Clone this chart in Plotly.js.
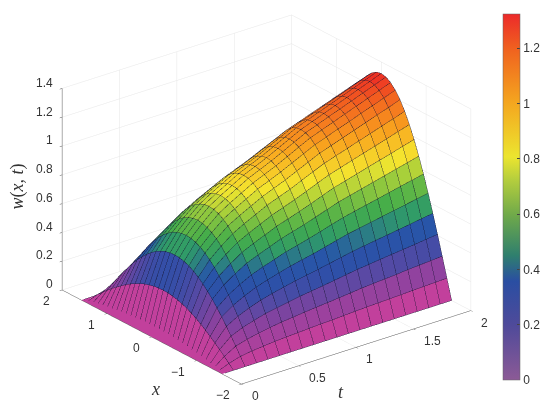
<!DOCTYPE html>
<html>
<head>
<meta charset="utf-8">
<script src="https://cdn.plot.ly/plotly-3.0.1.min.js"></script>
<style>html,body{margin:0;padding:0;background:#fff}#plot{width:550px;height:409px}</style>
</head>
<body>
<div id="plot"></div>
<script>
const tVals = [0,.1,.2,.3,.4,.5,.6,.7,.8,.9,1,1.1,1.2,1.3,1.4,1.5,1.6,1.7,1.8,1.9,2];
const xVals = [-1.571,-1.466,-1.361,-1.257,-1.152,-1.047,-.942,-.838,-.733,-.628,-.524,-.419,-.314,-.209,-.105,0,
  .105,.209,.314,.419,.524,.628,.733,.838,.942,1.047,1.152,1.257,1.361,1.466,1.571];
// one row per t, from the x = -pi/2 edge to the crest at x = 0; the other half is its mirror image
const wHalf = [
[0,0,0,0,0,0,0,0,0,0,0,0,0,0,0,0],
[0,.031,.062,.093,.122,.150,.176,.201,.223,.243,.260,.274,.285,.293,.298,.300],
[0,.054,.108,.161,.211,.260,.306,.348,.386,.421,.450,.475,.495,.509,.517,.520],
[0,.066,.131,.195,.256,.315,.370,.422,.468,.510,.546,.576,.599,.616,.627,.630],
[0,.074,.148,.219,.289,.355,.417,.475,.528,.574,.615,.649,.675,.694,.706,.710],
[0,.082,.162,.241,.317,.390,.458,.522,.580,.631,.675,.713,.742,.763,.776,.780],
[0,.087,.173,.256,.338,.415,.488,.555,.617,.671,.719,.758,.789,.812,.825,.830],
[0,.091,.182,.270,.356,.438,.514,.585,.650,.708,.758,.799,.832,.856,.870,.875],
[0,.096,.191,.284,.374,.460,.541,.616,.684,.744,.797,.840,.875,.900,.915,.920],
[0,.100,.199,.295,.388,.478,.561,.639,.710,.773,.827,.872,.908,.934,.950,.955],
[0,.103,.206,.306,.403,.495,.582,.662,.736,.801,.857,.904,.942,.968,.985,.990],
[0,.108,.214,.318,.419,.515,.605,.689,.765,.833,.892,.941,.980,1.007,1.024,1.030],
[0,.112,.222,.331,.435,.535,.629,.716,.795,.866,.927,.977,1.018,1.047,1.064,1.070],
[0,.116,.231,.343,.451,.555,.652,.743,.825,.898,.961,1.014,1.056,1.086,1.104,1.110],
[0,.119,.237,.352,.464,.570,.670,.763,.847,.922,.987,1.041,1.084,1.115,1.134,1.140],
[0,.122,.243,.362,.476,.585,.688,.783,.869,.947,1.013,1.069,1.113,1.144,1.164,1.170],
[0,.125,.249,.371,.488,.600,.705,.803,.892,.971,1.039,1.096,1.141,1.174,1.193,1.200],
[0,.129,.256,.380,.500,.615,.723,.823,.914,.995,1.065,1.124,1.170,1.203,1.223,1.230],
[0,.132,.262,.389,.512,.630,.741,.843,.936,1.019,1.091,1.151,1.198,1.232,1.253,1.260],
[0,.135,.268,.399,.525,.645,.758,.863,.959,1.044,1.117,1.178,1.227,1.262,1.283,1.290],
[0,.138,.274,.408,.537,.660,.776,.883,.981,1.068,1.143,1.206,1.255,1.291,1.313,1.320]
];
const w = wHalf.map(row => row.concat(row.slice(0, -1).reverse()));
const tTicks = [0,.5,1,1.5,2];
const tLabels = ['0','0.5','1','1.5','2'];
const xTicks = [-2,-1,0,1,2];
const xLabels = ['\u22122','\u22121','0','1','2'];
const zTicks = [0,.2,.4,.6,.8,1,1.2,1.4];
const zLabels = ['0','0.2','0.4','0.6','0.8','1','1.2','1.4'];
const barTicks = [0,.2,.4,.6,.8,1,1.2];
const barLabels = ['0','0.2','0.4','0.6','0.8','1','1.2'];
const wMax = 1.323;

const surfColors = [[0,'#c2409c'],[.11,'#8a429f'],[.23,'#2f4fa8'],[.31,'#2756a8'],[.38,'#2f9a6a'],[.45,'#45ad4a'],[.55,'#9ccc3c'],[.63,'#f5e62f'],[.76,'#f9a51e'],[.9,'#f2611f'],[1,'#ec2226']];
const barColors = [[0,'#8c5a96'],[.15,'#4f4a9a'],[.27,'#2a4ea2'],[.34,'#2f7f6e'],[.45,'#6fa94a'],[.55,'#b7cf3d'],[.61,'#ece52f'],[.76,'#f4a51f'],[.9,'#f0641f'],[1,'#ec2a2a']];

const s = 1.482;
const zScale = .759;
const eye = { x: -.5615, y: -.7187, z: .41 };

// flat coloured quads, one colour per cell like surf
const px = [], py = [], pz = [], fi = [], fj = [], fk = [], cellVal = [];
const nx = xVals.length, nt = tVals.length;
tVals.forEach((t, j) => xVals.forEach((x, i) => { px.push(t); py.push(x); pz.push(w[j][i]); }));
for (let j = 0; j < nt - 1; j++) {
  for (let i = 0; i < nx - 1; i++) {
    const a = j * nx + i, b = a + 1, c = a + nx, d = c + 1;
    fi.push(a, a); fj.push(b, d); fk.push(d, c);
    cellVal.push(w[j][i], w[j][i]);
  }
}
const sheet = {
  type: 'mesh3d', x: px, y: py, z: pz, i: fi, j: fj, k: fk,
  intensity: cellVal, intensitymode: 'cell', colorscale: surfColors, cmin: 0, cmax: wMax,
  showscale: false, flatshading: true, hoverinfo: 'skip',
  lighting: { ambient: 1, diffuse: 0, specular: 0, fresnel: 0, roughness: 1 },
};

// mesh lines, pulled a hair towards the camera so the sheet does not swallow them
const lift = .03;
const liftT = eye.x * lift * 2 / s, liftX = eye.y * lift * 4 / s, liftZ = eye.z * lift * 1.4 / (s * zScale);
const lx = [], ly = [], lz = [];
const addPoint = (j, i) => { lx.push(tVals[j] + liftT); ly.push(xVals[i] + liftX); lz.push(w[j][i] + liftZ); };
const addGap = () => { lx.push(null); ly.push(null); lz.push(null); };
for (let j = 0; j < nt; j++) {
  for (let i = 0; i < nx; i++) addPoint(j, i);
  addGap();
}
for (let i = 0; i < nx; i++) {
  for (let j = 0; j < nt; j++) addPoint(j, i);
  addGap();
}
const meshLines = {
  type: 'scatter3d', mode: 'lines', x: lx, y: ly, z: lz, hoverinfo: 'skip',
  line: { color: 'rgba(15,15,35,0.72)', width: 1 }, showlegend: false,
};

// carries the paler colour bar
const barTrace = {
  type: 'scatter3d', mode: 'markers', x: [1, 1], y: [0, 0], z: [.5, .5], hoverinfo: 'skip', showlegend: false,
  marker: {
    size: 1, opacity: 0, color: [0, wMax], cmin: 0, cmax: wMax, colorscale: barColors, showscale: true,
    colorbar: {
      thickness: 17, len: 366, lenmode: 'pixels', x: 503 / 550, xanchor: 'left', y: (409 - 380) / 409, yanchor: 'bottom',
      tickvals: barTicks, ticktext: barLabels, ticks: 'inside', ticklen: 3, tickcolor: '#444',
      outlinecolor: '#666', outlinewidth: 0.5, xpad: 0, ypad: 0,
      tickfont: { family: 'Liberation Sans', size: 12, color: '#333' },
    },
  },
};

const axis = {
  showbackground: false, showgrid: true, gridcolor: '#e6e6e6', gridwidth: 1, zeroline: false, showticklabels: false,
  showline: true, linecolor: '#555', linewidth: 1, ticks: 'outside', ticklen: 3, tickcolor: '#555',
  showspikes: false, title: { text: '' },
};
const tickFont = { family: 'Liberation Sans', size: 12, color: '#333' };
const sceneNotes = [];
tTicks.forEach((v, n) => sceneNotes.push({ x: v, y: -2, z: 0, text: tLabels[n], showarrow: false, xanchor: 'left', xshift: 8, yshift: -12, font: tickFont }));
xTicks.forEach((v, n) => sceneNotes.push({ x: 0, y: v, z: 0, text: xLabels[n], showarrow: false, xanchor: 'right', xshift: -10, yshift: -11, font: tickFont }));
zTicks.forEach((v, n) => sceneNotes.push({ x: 0, y: 2, z: v, text: zLabels[n], showarrow: false, xanchor: 'right', xshift: -7, yshift: 6, font: tickFont }));

const layout = {
  width: 550, height: 409, margin: { l: 0, r: 0, t: 0, b: 0 }, paper_bgcolor: '#fff', showlegend: false,
  scene: {
    domain: { x: [0, .9696], y: [.0316, .9916] },
    aspectmode: 'manual', aspectratio: { x: s, y: s, z: zScale * s },
    camera: { projection: { type: 'orthographic' }, eye: { x: eye.x * 2, y: eye.y * 2, z: eye.z * 2 }, up: { x: 0, y: 0, z: 1 }, center: { x: 0, y: 0, z: 0 } },
    xaxis: { ...axis, range: [0, 2], tickvals: tTicks, ticktext: tLabels },
    yaxis: { ...axis, range: [-2, 2], tickvals: xTicks, ticktext: xLabels },
    zaxis: { ...axis, range: [0, 1.4], tickvals: zTicks, ticktext: zLabels },
    annotations: sceneNotes,
  },
  annotations: [
    { xref: 'paper', yref: 'paper', x: 341 / 550, y: 1 - 404 / 409, showarrow: false, text: '<i>t</i>', font: { family: 'Liberation Serif', size: 18, color: '#333' } },
    { xref: 'paper', yref: 'paper', x: 149 / 550, y: 1 - 401 / 409, showarrow: false, text: '<i>x</i>', font: { family: 'Liberation Serif', size: 18, color: '#333' } },
    { xref: 'paper', yref: 'paper', x: 4 / 550, y: 1 - 187 / 409, showarrow: false, textangle: -90, text: '<i>w</i>(<i>x, t</i>)', font: { family: 'Liberation Serif', size: 18, color: '#333' } },
  ],
};
Plotly.newPlot('plot', [sheet, meshLines, barTrace], layout, { displayModeBar: false });
</script>
</body>
</html>
